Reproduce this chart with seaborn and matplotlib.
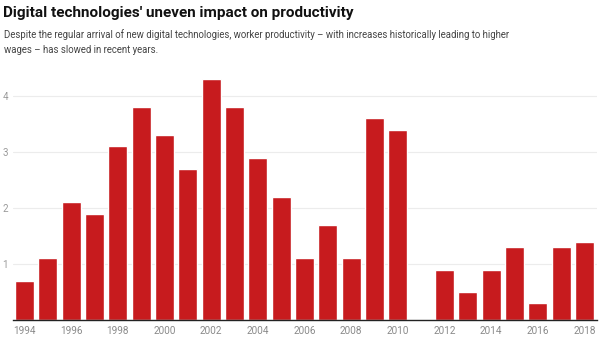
import matplotlib
matplotlib.use("Agg")
import matplotlib.pyplot as plt
from matplotlib import font_manager
import seaborn as sns
import numpy as np
import pandas as pd

years = [str(y) for y in range(1994, 2019)]
values = [0.7, 1.1, 2.1, 1.9, 3.1, 3.8, 3.3, 2.7, 4.3, 3.8, 2.9, 2.2, 1.1, 1.7, 1.1,
          3.6, 3.4, np.nan, 0.9, 0.5, 0.9, 1.3, 0.3, 1.3, 1.4]
y_ticks = [1, 2, 3, 4]

title = "Digital technologies' uneven impact on productivity"
subtitle = ("Despite the regular arrival of new digital technologies, worker productivity \u2013 with increases historically leading to higher\n"
            "wages \u2013 has slowed in recent years.")

sns.set_theme(style="white")
plt.rcParams['font.family'] = ['Roboto', 'DejaVu Sans']

names = {f.name for f in font_manager.fontManager.ttflist}
if "Liberation Sans Narrow" in names:
    title_family, title_size = ["Liberation Sans Narrow", "DejaVu Sans"], 13.3
else:
    title_family, title_size = ["Roboto", "DejaVu Sans"], 11

df = pd.DataFrame({"year": years, "value": values})

fig = plt.figure(figsize=(6, 3.38), dpi=100)
ax = fig.add_axes([13/600, 1 - 320/338, 584/600, 243.6/338])

sns.barplot(data=df, x="year", y="value", order=years, color="#c71b1e",
            width=0.815, saturation=1, ax=ax)

ax.set_xlim(-0.49, 24.54)
ax.set_ylim(0, 4.35)
ax.set_yticks(y_ticks)
ax.set_yticklabels([str(t) for t in y_ticks])
ax.yaxis.grid(True, color="#ececec", linewidth=0.8)
ax.set_axisbelow(True)
ax.tick_params(axis="y", length=0, pad=3.5, labelsize=7, labelcolor="#9a9a9a")
ax.tick_params(axis="x", length=0, pad=4, labelsize=7.2, labelcolor="#8a8a8a")
ax.set_xticks(range(len(years)))
ax.set_xticklabels([y if int(y) % 2 == 0 else "" for y in years])
ax.set_xlabel("")
ax.set_ylabel("")
for s in ["top", "right", "left"]:
    ax.spines[s].set_visible(False)
ax.spines["bottom"].set_color("#222222")
ax.spines["bottom"].set_linewidth(1.0)

fig.text(3/600, 1 - 13/338, title, fontsize=title_size, fontweight="bold", color="#111111",
         va="center", ha="left", family=title_family)
fig.text(4/600, 1 - 42/338, subtitle, fontsize=6.9, color="#444444",
         va="center", ha="left", linespacing=1.65)

fig.savefig("out.png", dpi=100)
